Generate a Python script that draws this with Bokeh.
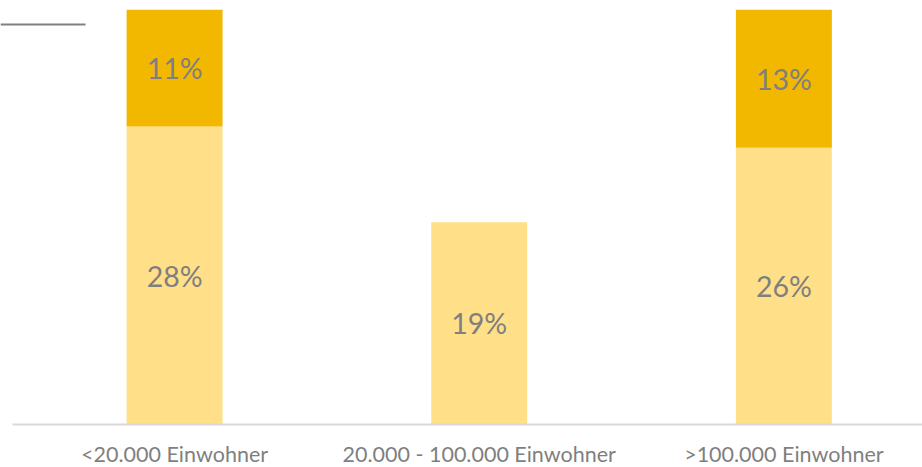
from bokeh.plotting import figure
from bokeh.models import ColumnDataSource, Range1d, LabelSet, BoxAnnotation
from bokeh.core.properties import value
from bokeh.embed import file_html
from bokeh.resources import INLINE

categories = ["<20.000 Einwohner", "20.000 - 100.000 Einwohner", ">100.000 Einwohner"]
lower = [28, 19, 26]
upper = [11, 0, 13]

light = "#FFE089"
gold = "#F2B800"
grey_text = "#7F7F7F"

xs = list(range(len(categories)))
bottom_top = [l + u for l, u in zip(lower, upper)]
src = ColumnDataSource(dict(
    x=xs, lower=lower, upper=upper, total=bottom_top,
    zero=[0] * len(xs), cat=categories,
    lower_mid=[l / 2 for l in lower],
    upper_mid=[l + u / 2 for l, u in zip(lower, upper)],
    lower_lbl=[f"{v}%" for v in lower],
    upper_lbl=[f"{v}%" if v else "" for v in upper],
))

p = figure(width=922, height=467, output_backend="svg", toolbar_location=None,
           x_range=Range1d(-0.5714, 2.455), y_range=Range1d(-4.041, 39.0),
           min_border_left=0, min_border_right=0, min_border_top=9, min_border_bottom=0)
p.outline_line_color = None
p.grid.visible = False
p.xaxis.visible = False
p.yaxis.visible = False

p.vbar(x="x", bottom=0, top="lower", width=0.315, source=src,
       fill_color=light, line_color=None)
p.vbar(x="x", bottom="lower", top="total", width=0.315, source=src,
       fill_color=gold, line_color=None)

p.add_layout(LabelSet(x="x", y="lower_mid", text="lower_lbl", source=src,
                      text_align="center", text_baseline="middle",
                      text_font=value("Lato"), text_font_size="28.5px",
                      text_color=grey_text))
p.add_layout(LabelSet(x="x", y="upper_mid", text="upper_lbl", source=src,
                      text_align="center", text_baseline="middle",
                      text_font=value("Lato"), text_font_size="28.5px",
                      text_color=grey_text))

# category labels under the baseline
p.add_layout(LabelSet(x="x", y="zero", text="cat", source=src, y_offset=-30,
                      text_align="center", text_baseline="middle",
                      text_font=value("Lato"), text_font_size="21.5px",
                      text_color=grey_text))

# baseline (axis line)
p.add_layout(BoxAnnotation(left=12, right=922, bottom=42, top=44,
                           left_units="screen", right_units="screen",
                           top_units="screen", bottom_units="screen",
                           fill_color="#D9D9D9", fill_alpha=1, line_alpha=0))
# short dark rule at the top left
p.add_layout(BoxAnnotation(left=0, right=85, bottom=442, top=444,
                           left_units="screen", right_units="screen",
                           top_units="screen", bottom_units="screen",
                           fill_color="#808080", fill_alpha=1, line_alpha=0))

open("out.html", "w").write(file_html(p, INLINE))
